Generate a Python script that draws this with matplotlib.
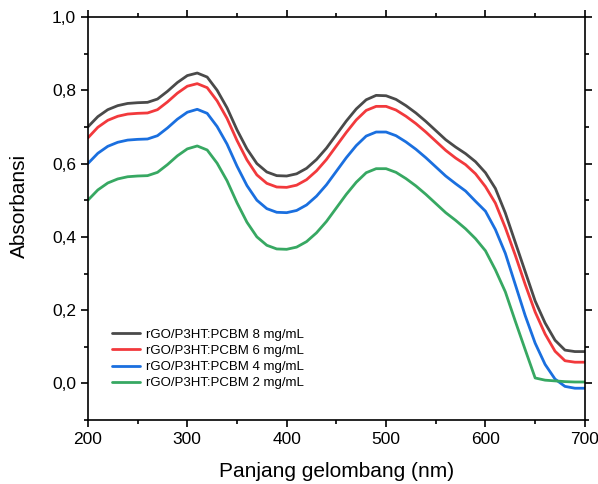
import numpy as np
import matplotlib
matplotlib.use("Agg")
import matplotlib.pyplot as plt
from matplotlib.ticker import MultipleLocator, FuncFormatter

plt.rcParams['font.family'] = ['Liberation Sans', 'DejaVu Sans']

# wavelength (nm), every 10 nm
wl = list(range(200, 701, 10))

abs_8 = [0.700, 0.728, 0.747, 0.758, 0.764, 0.766, 0.767, 0.776, 0.797, 0.821,
         0.840, 0.847, 0.836, 0.800, 0.752, 0.692, 0.640, 0.600, 0.577, 0.567,
         0.566, 0.572, 0.587, 0.611, 0.642, 0.679, 0.716, 0.749, 0.774, 0.786,
         0.785, 0.775, 0.758, 0.738, 0.715, 0.690, 0.665, 0.645, 0.627, 0.605,
         0.575, 0.532, 0.465, 0.385, 0.305, 0.225, 0.165, 0.118, 0.091, 0.087,
         0.087]
abs_6 = [0.670, 0.699, 0.718, 0.729, 0.735, 0.737, 0.738, 0.747, 0.768, 0.792,
         0.811, 0.818, 0.807, 0.771, 0.723, 0.663, 0.610, 0.569, 0.546, 0.536,
         0.535, 0.541, 0.556, 0.580, 0.611, 0.648, 0.685, 0.719, 0.745, 0.756,
         0.756, 0.746, 0.729, 0.709, 0.686, 0.661, 0.636, 0.615, 0.597, 0.572,
         0.537, 0.492, 0.425, 0.350, 0.270, 0.195, 0.135, 0.088, 0.062, 0.058,
         0.058]
abs_4 = [0.600, 0.628, 0.647, 0.658, 0.664, 0.666, 0.667, 0.676, 0.697, 0.721,
         0.740, 0.748, 0.737, 0.701, 0.653, 0.593, 0.540, 0.500, 0.477, 0.467,
         0.466, 0.472, 0.487, 0.511, 0.542, 0.579, 0.616, 0.649, 0.675, 0.686,
         0.686, 0.676, 0.659, 0.639, 0.616, 0.591, 0.566, 0.545, 0.525, 0.497,
         0.470, 0.420, 0.355, 0.270, 0.185, 0.110, 0.052, 0.012, -0.008, -0.013,
         -0.013]
abs_2 = [0.500, 0.528, 0.547, 0.558, 0.564, 0.566, 0.567, 0.576, 0.597, 0.621,
         0.640, 0.648, 0.637, 0.601, 0.553, 0.493, 0.440, 0.400, 0.377, 0.367,
         0.366, 0.372, 0.387, 0.411, 0.442, 0.479, 0.516, 0.549, 0.575, 0.586,
         0.586, 0.576, 0.559, 0.539, 0.516, 0.491, 0.466, 0.445, 0.422, 0.395,
         0.362, 0.310, 0.250, 0.170, 0.092, 0.015, 0.009, 0.007, 0.005, 0.004,
         0.004]

labels = ['rGO/P3HT:PCBM 8 mg/mL', 'rGO/P3HT:PCBM 6 mg/mL',
          'rGO/P3HT:PCBM 4 mg/mL', 'rGO/P3HT:PCBM 2 mg/mL']
colors = ['#4a4a4a', '#f2393c', '#1a6fdf', '#37a862']

fig = plt.figure(figsize=(5.98, 4.84), dpi=100)
ax = fig.add_axes([0.147, 0.132, 0.831, 0.833])

for y, lab, c in zip([abs_8, abs_6, abs_4, abs_2], labels, colors):
    ax.plot(wl, y, color=c, lw=2.0, label=lab,
            solid_capstyle='round', solid_joinstyle='round')

ax.set_xlim(200, 700)
ax.set_ylim(-0.1, 1.0)
ax.xaxis.set_major_locator(MultipleLocator(100))
ax.xaxis.set_minor_locator(MultipleLocator(50))
ax.yaxis.set_major_locator(MultipleLocator(0.2))
ax.yaxis.set_minor_locator(MultipleLocator(0.1))
ax.yaxis.set_major_formatter(FuncFormatter(lambda v, p: f'{v:.1f}'.replace('.', ',')))

ax.tick_params(which='both', direction='out', top=True, right=True,
               labelsize=12.5, width=1.2)
ax.tick_params(which='major', length=5)
ax.tick_params(which='minor', length=3)
for s in ax.spines.values():
    s.set_linewidth(1.2)

ax.set_xlabel('Panjang gelombang (nm)', fontsize=15, labelpad=11)
ax.set_ylabel('Absorbansi', fontsize=15)
ax.yaxis.set_label_coords(-0.118, 0.532)

ax.legend(loc='upper left', bbox_to_anchor=(0.03, 0.25), frameon=False,
          fontsize=9.5, handlelength=2.1, handletextpad=0.45,
          labelspacing=0.3, borderaxespad=0.3)

fig.savefig('out.png', dpi=100)
